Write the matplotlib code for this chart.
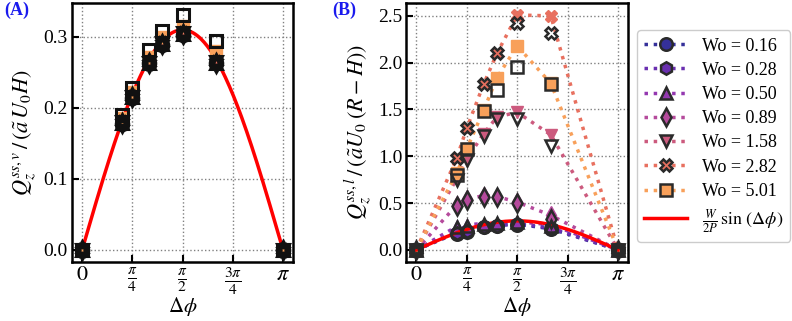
import numpy as np
import matplotlib
matplotlib.use("Agg")
import matplotlib.pyplot as plt
from matplotlib.lines import Line2D

plt.rcParams['font.family'] = ['Liberation Serif', 'DejaVu Serif']
plt.rcParams['mathtext.fontset'] = 'stix'
plt.rcParams['font.size'] = 11

# phase lags (fractions of pi) where the simulations were run
dphi_frac = [0, 1/5, 1/4, 1/3, 2/5, 1/2, 2/3, 1]
wo_labels = ['0.16', '0.28', '0.50', '0.89', '1.58', '2.82', '5.01']
markers = ['o', 'h', '^', 'd', 'v', 'X', 's']
colors = ['#35309a', '#6a2fb0', '#9438b0', '#b54a9c', '#cc5a7e', '#e8705f', '#f8a05a']

# theory amplitude W/(2P)
amp = 0.31

# (A) vertical flux, filled markers / hollow markers
qv_fill = [
    [0, 0.179, 0.215, 0.263, 0.290, 0.304, 0.263, 0],
    [0, 0.179, 0.215, 0.263, 0.290, 0.304, 0.263, 0],
    [0, 0.180, 0.216, 0.264, 0.291, 0.305, 0.264, 0],
    [0, 0.180, 0.216, 0.264, 0.291, 0.305, 0.264, 0],
    [0, 0.180, 0.217, 0.265, 0.292, 0.306, 0.266, 0],
    [0, 0.181, 0.218, 0.266, 0.293, 0.307, 0.267, 0],
    [0, 0.186, 0.222, 0.272, 0.300, 0.316, 0.280, 0],
]
qv_open = [
    [0, 0.178, 0.214, 0.263, 0.289, 0.303, 0.263, 0],
    [0, 0.178, 0.214, 0.263, 0.289, 0.303, 0.263, 0],
    [0, 0.179, 0.215, 0.263, 0.290, 0.304, 0.263, 0],
    [0, 0.179, 0.215, 0.263, 0.290, 0.304, 0.264, 0],
    [0, 0.180, 0.216, 0.264, 0.291, 0.305, 0.265, 0],
    [0, 0.180, 0.216, 0.264, 0.291, 0.305, 0.265, 0],
    [0, 0.190, 0.228, 0.281, 0.309, 0.331, 0.294, 0],
]

# (B) lateral flux, filled markers / hollow markers
ql_fill = [
    [0, 0.18, 0.20, 0.245, 0.26, 0.275, 0.225, 0],
    [0, 0.19, 0.21, 0.25, 0.265, 0.28, 0.235, 0],
    [0, 0.25, 0.27, 0.28, 0.29, 0.30, 0.27, 0],
    [0, 0.48, 0.54, 0.58, 0.57, 0.51, 0.37, 0],
    [0, 0.76, 0.97, 1.24, 1.42, 1.47, 1.23, 0],
    [0, 0.98, 1.30, 1.77, 2.10, 2.51, 2.50, 0],
    [0, 0.82, 1.08, 1.49, 1.84, 2.18, 1.78, 0],
]
ql_open = [
    [0, 0.17, 0.19, 0.24, 0.255, 0.27, 0.22, 0],
    [0, 0.18, 0.20, 0.245, 0.26, 0.275, 0.23, 0],
    [0, 0.24, 0.26, 0.275, 0.285, 0.295, 0.26, 0],
    [0, 0.47, 0.53, 0.57, 0.56, 0.50, 0.33, 0],
    [0, 0.75, 0.96, 1.22, 1.40, 1.40, 1.11, 0],
    [0, 0.98, 1.30, 1.77, 2.10, 2.42, 2.32, 0],
    [0, 0.80, 1.08, 1.48, 1.71, 1.95, 1.77, 0],
]

xticks = [0, np.pi/4, np.pi/2, 3*np.pi/4, np.pi]
xticklabels = ['$0$', r'$\frac{\pi}{4}$', r'$\frac{\pi}{2}$', r'$\frac{3\pi}{4}$', r'$\pi$']

dphi = np.pi * np.array(dphi_frac)
phi_fine = np.linspace(0, np.pi, 200)

fig = plt.figure(figsize=(7.92, 3.21), dpi=100)
axA = fig.add_axes([0.091, 0.185, 0.279, 0.805])
axB = fig.add_axes([0.513, 0.185, 0.280, 0.805])

ms = 9
edge = '#2a2a2a'


def style_axis(ax):
    ax.set_xticks(xticks)
    ax.set_xticklabels(xticklabels, fontsize=16)
    ax.tick_params(direction='in', width=1.5, length=5, pad=3)
    ax.tick_params(axis='y', labelsize=14)
    for s in ax.spines.values():
        s.set_linewidth(1.8)
    ax.grid(True, ls=':', color='grey', lw=1.0)
    ax.set_axisbelow(True)
    ax.set_xlabel(r'$\Delta\phi$', fontsize=15, labelpad=-2)


# panel A
axA.plot(phi_fine, amp*np.sin(phi_fine), color='red', lw=2.5, zorder=2)
for i in range(len(wo_labels)):
    axA.plot(dphi, qv_fill[i], ls='none', marker=markers[i], ms=ms,
             color=colors[i], mec=colors[i], zorder=3)
for i in range(len(wo_labels)):
    axA.plot(dphi, qv_open[i], ls='none', marker=markers[i], ms=ms,
             mfc='none', mec='#111111', mew=2.2, zorder=4)
style_axis(axA)
axA.set_yticks([0.0, 0.1, 0.2, 0.3])
axA.set_ylabel(r'$Q_z^{ss,v}\,/\,(\tilde{a}\,U_0H)$', fontsize=16, labelpad=3)

# panel B
for i in range(len(wo_labels)):
    axB.plot(dphi, ql_fill[i], ls=':', lw=2.5, marker=markers[i], ms=ms,
             color=colors[i], mec=colors[i], zorder=3)
axB.plot(phi_fine, amp*np.sin(phi_fine), color='red', lw=2.5, zorder=3.5)
for i in range(len(wo_labels)):
    axB.plot(dphi, ql_open[i], ls='none', marker=markers[i], ms=ms,
             mfc='none', mec=edge, mew=1.8, zorder=4)
style_axis(axB)
axB.set_yticks([0.0, 0.5, 1.0, 1.5, 2.0, 2.5])
axB.set_ylabel(r'$Q_z^{ss,l}\,/\,(\tilde{a}U_0\;(R-H))$', fontsize=16, labelpad=3)

handles = [Line2D([], [], ls=':', lw=2.5, color=colors[i], marker=markers[i],
                  ms=ms, mfc=colors[i], mec=edge, mew=1.8)
           for i in range(len(wo_labels))]
handles.append(Line2D([], [], color='red', lw=2.5))
labels = ['Wo = ' + w for w in wo_labels] + [r'$\frac{W}{2P}\,\sin\,(\Delta\phi)$']
axB.legend(handles, labels, loc='upper left', bbox_to_anchor=(1.04, 0.895),
           borderaxespad=0, fontsize=13, handlelength=2.4, labelspacing=0.4,
           framealpha=1, edgecolor='#cccccc', fancybox=True)

fig.text(0.005, 0.955, '(A)', color='#1a1aee', fontweight='bold', fontsize=13)
fig.text(0.42, 0.955, '(B)', color='#1a1aee', fontweight='bold', fontsize=13)

fig.savefig('out.png', dpi=100)
